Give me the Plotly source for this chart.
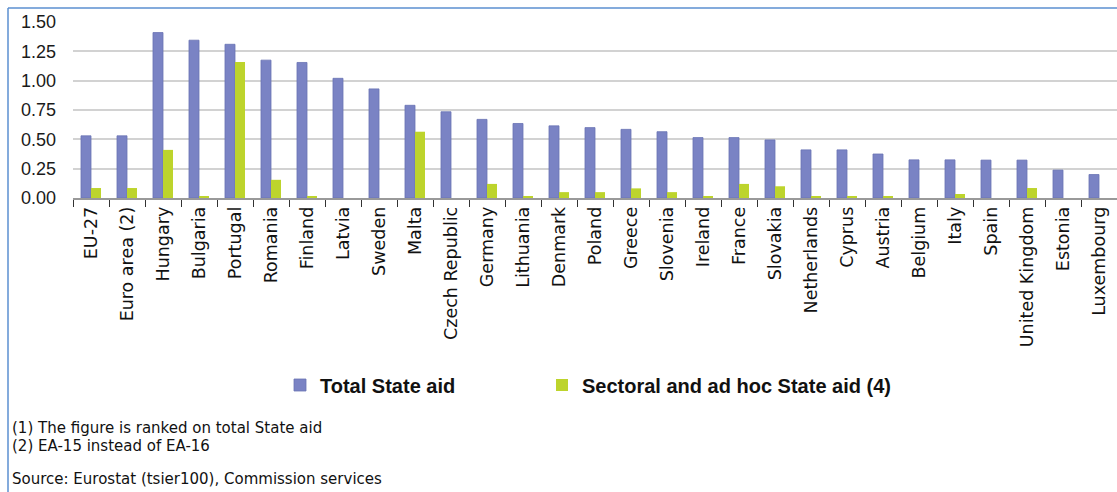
import plotly.graph_objects as go

countries = ["EU-27", "Euro area (2)", "Hungary", "Bulgaria", "Portugal", "Romania",
             "Finland", "Latvia", "Sweden", "Malta", "Czech Republic", "Germany",
             "Lithuania", "Denmark", "Poland", "Greece", "Slovenia", "Ireland",
             "France", "Slovakia", "Netherlands", "Cyprus", "Austria", "Belgium",
             "Italy", "Spain", "United Kingdom", "Estonia", "Luxembourg"]

total_aid = [0.53, 0.53, 1.41, 1.345, 1.31, 1.175, 1.155, 1.02, 0.93, 0.79,
             0.735, 0.67, 0.635, 0.615, 0.60, 0.585, 0.565, 0.515, 0.515, 0.495,
             0.41, 0.41, 0.375, 0.325, 0.325, 0.323, 0.323, 0.238, 0.20]

sectoral_aid = [0.085, 0.085, 0.41, 0.015, 1.16, 0.155, 0.015, 0.0, 0.0, 0.565,
                0.0, 0.12, 0.014, 0.05, 0.05, 0.082, 0.05, 0.014, 0.12, 0.10,
                0.014, 0.014, 0.014, 0.0, 0.034, 0.0, 0.085, 0.0, 0.0]

y_ticks = [0.0, 0.25, 0.5, 0.75, 1.0, 1.25, 1.5]
y_tick_labels = ["0.00", "0.25", "0.50", "0.75", "1.00", "1.25", "1.50"]

footnotes = ["(1) The figure is ranked on total State aid",
             "(2) EA-15 instead of EA-16"]
source_text = "Source: Eurostat (tsier100), Commission services"

W, H = 1117, 492
ML, MR, MT, MB = 73, 0, 22, 294
PW = W - ML - MR
PH = H - MT - MB


def px_x(px):
    return (px - ML) / PW


def px_y(py):
    return (H - MB - py) / PH


fig = go.Figure()
fig.add_trace(go.Bar(x=countries, y=total_aid, name="Total State aid", legend="legend",
                     marker=dict(color="#7a83c4", line=dict(color="#6a73b4", width=0.8))))
fig.add_trace(go.Bar(x=countries, y=sectoral_aid, name="Sectoral and ad hoc State aid (4)",
                     legend="legend2",
                     marker=dict(color="#bdd42c", line=dict(width=0))))

frame_color = "#5b8fd0"
fig.add_shape(type="line", xref="paper", yref="paper",
              x0=px_x(8), x1=px_x(W), y0=px_y(8), y1=px_y(8),
              line=dict(color=frame_color, width=1.5))
fig.add_shape(type="line", xref="paper", yref="paper",
              x0=px_x(8), x1=px_x(8), y0=px_y(8), y1=px_y(H),
              line=dict(color=frame_color, width=1.5))

note_font = dict(family="DejaVu Sans", size=15, color="#111")
for txt, py in zip(footnotes, [428, 446]):
    fig.add_annotation(text=txt, xref="paper", yref="paper", x=px_x(10), y=px_y(py),
                       xanchor="left", yanchor="middle", showarrow=False, font=note_font)
fig.add_annotation(text=source_text, xref="paper", yref="paper", x=px_x(10), y=px_y(479),
                   xanchor="left", yanchor="middle", showarrow=False, font=note_font)

legend_font = dict(family="Arial", size=20, color="#111", weight="bold")
fig.update_layout(
    width=W, height=H,
    margin=dict(l=ML, r=MR, t=MT, b=MB, pad=0),
    paper_bgcolor="white", plot_bgcolor="white",
    barmode="group", bargap=0.444, bargroupgap=0,
    font=dict(family="Arial", color="#111"),
    showlegend=True,
    legend=dict(orientation="h", x=px_x(280), y=px_y(385), xanchor="left", yanchor="middle",
                itemwidth=30, font=legend_font, bgcolor="rgba(0,0,0,0)"),
    legend2=dict(orientation="h", x=px_x(542), y=px_y(385), xanchor="left", yanchor="middle",
                 itemwidth=30, font=legend_font, bgcolor="rgba(0,0,0,0)"),
    xaxis=dict(type="category", tickangle=-90, tickson="boundaries",
               ticks="outside", ticklen=7, tickcolor="#333", tickwidth=1.2,
               showline=True, linecolor="#999", linewidth=1.5,
               showgrid=False,
               tickfont=dict(family="DejaVu Sans", size=17.5, color="#111")),
    yaxis=dict(range=[0, 1.5], tickvals=y_ticks, ticktext=y_tick_labels,
               showgrid=True, gridcolor="#d2d2d2", gridwidth=2,
               zeroline=False, showline=False, ticks="",
               ticklabelstandoff=16,
               tickfont=dict(family="Arial", size=18, color="#1a1a1a")),
)

fig.write_html("out.html")
